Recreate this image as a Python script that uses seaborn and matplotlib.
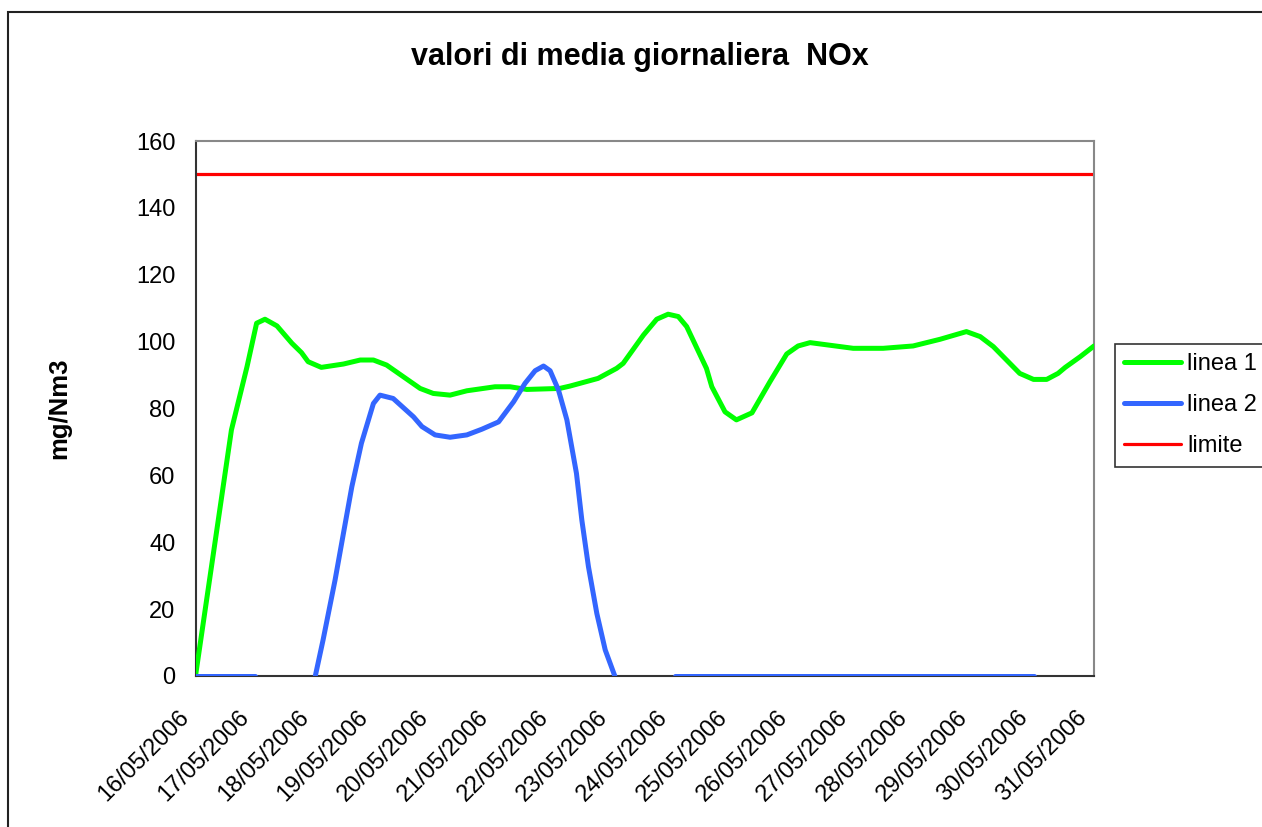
import matplotlib
matplotlib.use("Agg")
import matplotlib.pyplot as plt
from matplotlib.lines import Line2D
from matplotlib.patches import Rectangle
from matplotlib.transforms import ScaledTranslation
import seaborn as sns
import pandas as pd

# ---------------- data ----------------
date_labels = ["16/05/2006", "17/05/2006", "18/05/2006", "19/05/2006",
               "20/05/2006", "21/05/2006", "22/05/2006", "23/05/2006",
               "24/05/2006", "25/05/2006", "26/05/2006", "27/05/2006",
               "28/05/2006", "29/05/2006", "30/05/2006", "31/05/2006"]
y_ticks = [0, 20, 40, 60, 80, 100, 120, 140, 160]

# linea 1 : time in days from 16/05/2006, value in mg/Nm3
linea1_days = [0.00, 0.60, 0.86, 1.02, 1.16, 1.36, 1.61, 1.77, 1.88, 2.10,
               2.47, 2.75, 2.97, 3.19, 3.75, 3.97, 4.25, 4.53, 5.00, 5.25,
               5.53, 6.08, 6.25, 6.72, 7.03, 7.14, 7.48, 7.70, 7.89, 8.06,
               8.20, 8.53, 8.62, 8.84, 9.03, 9.29, 9.59, 9.87, 10.06, 10.26,
               10.98, 11.48, 11.98, 12.43, 12.87, 13.10, 13.32, 13.76, 13.99, 14.21,
               14.40, 14.52, 14.77, 15.00]
linea1_vals = [0.0, 73.6, 92.5, 105.5, 106.7, 104.7, 99.5, 96.7, 94.0, 92.3,
               93.3, 94.5, 94.5, 93.0, 86.0, 84.5, 84.0, 85.3, 86.5, 86.5,
               85.7, 86.0, 86.7, 89.0, 92.0, 93.5, 102.0, 106.7, 108.2, 107.5,
               104.5, 92.0, 86.5, 79.0, 76.6, 78.7, 88.0, 96.3, 98.7, 99.7,
               98.0, 98.0, 98.7, 100.7, 103.0, 101.5, 98.5, 90.5, 88.7, 88.7,
               90.5, 92.3, 95.5, 98.7]

# linea 2 : three separate stretches (missing data in between)
linea2_days = [0.00, 1.00,
               2.00, 2.13, 2.33, 2.47, 2.61, 2.77, 2.97, 3.08, 3.30, 3.64,
               3.78, 4.00, 4.25, 4.53, 4.78, 5.06, 5.31, 5.50, 5.67, 5.81,
               5.92, 6.06, 6.20, 6.36, 6.45, 6.56, 6.70, 6.84, 7.00,
               8.00, 14.00]
linea2_vals = [0.0, 0.0,
               0.0, 10.8, 28.7, 42.7, 56.6, 69.6, 81.5, 84.0, 83.0, 77.5,
               74.6, 72.1, 71.4, 72.1, 73.8, 76.0, 82.0, 87.5, 91.3, 92.7,
               91.3, 85.5, 76.6, 60.6, 46.6, 32.7, 18.7, 7.8, 0.0,
               0.0, 0.0]
linea2_stretch = [1, 1,
                  2, 2, 2, 2, 2, 2, 2, 2, 2, 2,
                  2, 2, 2, 2, 2, 2, 2, 2, 2, 2,
                  2, 2, 2, 2, 2, 2, 2, 2, 2,
                  3, 3]

limite_days = [0, 15]
limite_vals = [150, 150]

series_names = ["linea 1", "linea 2", "limite"]
series_colors = ["#00FF00", "#3366FF", "#FF0000"]

# ---------------- style ----------------
sns.set_style("white")
plt.rcParams["font.family"] = ["Liberation Sans", "DejaVu Sans"]
plt.rcParams["text.color"] = "black"
plt.rcParams["axes.labelcolor"] = "black"
plt.rcParams["xtick.color"] = "black"
plt.rcParams["ytick.color"] = "black"

fig = plt.figure(figsize=(12.62, 8.27), dpi=100)
W, H = 1262, 827
ax = fig.add_axes([195.5 / W, 1 - 676 / H, (1094 - 195.5) / W, (676 - 141) / H])

df1 = pd.DataFrame({"giorno": linea1_days, "valore": linea1_vals})
df2 = pd.DataFrame({"giorno": linea2_days, "valore": linea2_vals, "tratto": linea2_stretch})
df3 = pd.DataFrame({"giorno": limite_days, "valore": limite_vals})

lw_main = 3.6
sns.lineplot(data=df3, x="giorno", y="valore", color=series_colors[2], lw=2.3,
             estimator=None, sort=False, ax=ax, zorder=2)
sns.lineplot(data=df1, x="giorno", y="valore", color=series_colors[0], lw=lw_main,
             estimator=None, sort=False, ax=ax, zorder=3)
sns.lineplot(data=df2, x="giorno", y="valore", units="tratto", color=series_colors[1],
             lw=lw_main, estimator=None, sort=False, ax=ax, zorder=4)
for ln in ax.lines:
    ln.set_solid_capstyle("round")
    ln.set_solid_joinstyle("round")

ax.set_xlim(0, len(date_labels) - 1)
ax.set_ylim(y_ticks[0], y_ticks[-1])
ax.set_xticks(range(len(date_labels)))
ax.set_xticklabels(date_labels, rotation=45, ha="right", va="center",
                   rotation_mode="anchor", fontsize=17)
ax.set_yticks(y_ticks)
ax.set_yticklabels([str(v) for v in y_ticks], fontsize=17)
ax.set_xlabel("")
ax.set_ylabel("")
ax.tick_params(axis="both", direction="inout", length=11, width=1.2,
               color="#333333", labelcolor="black")
ax.tick_params(axis="y", pad=9)
ax.tick_params(axis="x", pad=22)
shift = ScaledTranslation(-10 / 100, 0, fig.dpi_scale_trans)
for lab in ax.get_xticklabels():
    lab.set_transform(lab.get_transform() + shift)

for s in ["left", "bottom"]:
    ax.spines[s].set_color("#333333")
    ax.spines[s].set_linewidth(1.5)
for s in ["top", "right"]:
    ax.spines[s].set_color("#888888")
    ax.spines[s].set_linewidth(1.5)
ax.grid(False)

# titles
fig.text(640 / W, 1 - 57 / H, "valori di media giornaliera  NOx", ha="center",
         va="center", fontsize=22, fontweight="bold", color="black")
fig.text(59 / W, 1 - 408 / H, "mg/Nm3", rotation=90, ha="center", va="center",
         fontsize=18.5, fontweight="bold", color="black")

# outer chart border
fig.patches.append(Rectangle((8 / W, -0.1), 1.2, 1.1 - 12 / H, transform=fig.transFigure,
                             fill=False, edgecolor="#222222", lw=1.5))

# legend
handles = [Line2D([], [], color=series_colors[0], lw=lw_main, solid_capstyle="round"),
           Line2D([], [], color=series_colors[1], lw=lw_main, solid_capstyle="round"),
           Line2D([], [], color=series_colors[2], lw=2.3, solid_capstyle="round")]
fig.legend(handles, series_names, loc="upper left",
           bbox_to_anchor=(1115 / W, 1 - 344 / H), bbox_transform=fig.transFigure,
           fontsize=17, frameon=True, fancybox=False, edgecolor="black",
           handlelength=2.4, handletextpad=0.25, labelspacing=0.8,
           borderpad=0.4, borderaxespad=0)
leg = fig.legends[0]
leg.get_frame().set_linewidth(1.2)
for t in leg.get_texts():
    t.set_color("black")

fig.savefig("out.png", dpi=100)
